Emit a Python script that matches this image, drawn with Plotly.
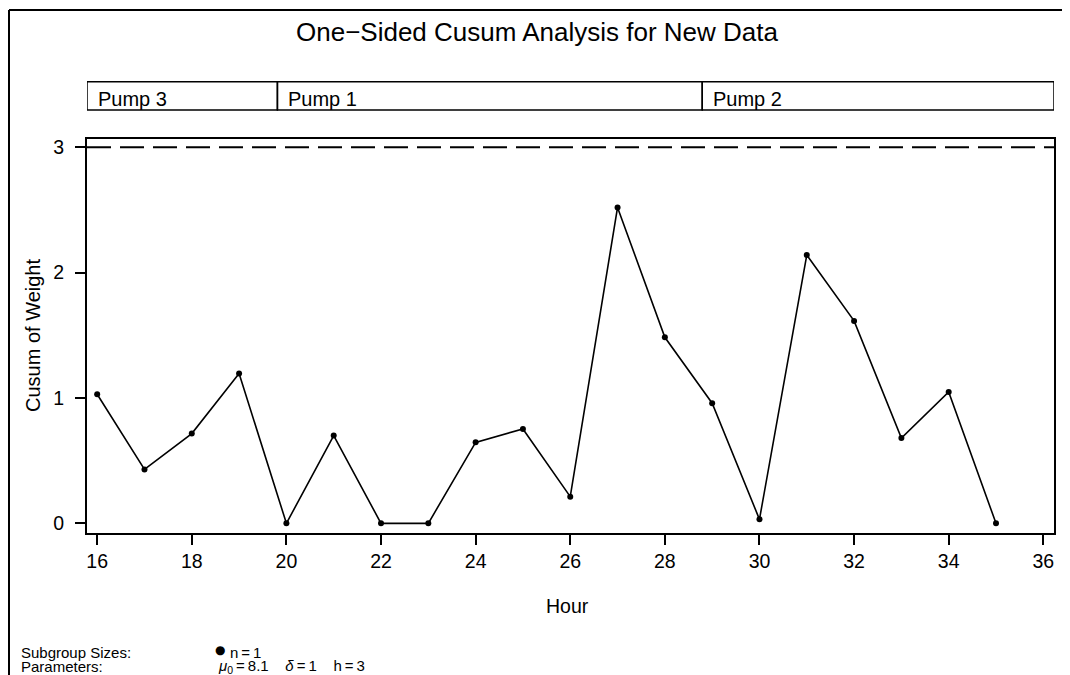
import plotly.graph_objects as go

# ---- data ----
hours = [16, 17, 18, 19, 20, 21, 22, 23, 24, 25, 26, 27, 28, 29, 30, 31, 32, 33, 34, 35]
cusum = [1.03, 0.43, 0.716, 1.195, 0.0, 0.70, 0.0, 0.0, 0.646, 0.753, 0.213,
         2.52, 1.484, 0.958, 0.032, 2.14, 1.615, 0.681, 1.048, 0.0]
pump_labels = ["Pump 3", "Pump 1", "Pump 2"]
pump_bounds = [15.785, 19.81, 28.79, 36.226]
x_ticks = [16, 18, 20, 22, 24, 26, 28, 30, 32, 34, 36]
y_ticks = [0, 1, 2, 3]
h_limit = 3

# page has an 8px body margin; work in reference-pixel coords and convert
OFF = 8
W, H = 1062, 667
ML, MR, MT, MB = 79, 16, 131, 142
PW = W - ML - MR
PH = H - MT - MB

def px(x):
    return (x - OFF - ML) / PW

def py(y):
    return (H - MB - (y - OFF)) / PH

FONT = "Liberation Sans, Arial, Helvetica, sans-serif"
TS = "\u2009"  # thin space

fig = go.Figure()
fig.add_trace(go.Scatter(
    x=hours, y=cusum, mode="lines+markers",
    line=dict(color="black", width=1.6),
    marker=dict(color="black", size=6),
    showlegend=False, hoverinfo="x+y",
))

shapes = []
# control limit
shapes.append(dict(type="line", xref="paper", yref="y", x0=0, x1=1, y0=h_limit, y1=h_limit,
                   line=dict(color="black", width=2, dash="24px,9px")))
# pump strip
annotations = []
for lab, a, b in zip(pump_labels, pump_bounds[:-1], pump_bounds[1:]):
    shapes.append(dict(type="rect", xref="x", yref="paper", x0=a, x1=b,
                       y0=py(110), y1=py(81.7), line=dict(color="black", width=1.5),
                       fillcolor="rgba(0,0,0,0)"))
    annotations.append(dict(xref="x", yref="paper", x=a, y=py(98.5), text=lab,
                            xanchor="left", yanchor="middle", xshift=9, showarrow=False,
                            font=dict(size=20, color="black", family=FONT)))
# outer border (top and left)
shapes.append(dict(type="line", xref="paper", yref="paper", x0=px(9), x1=px(W + OFF + 5),
                   y0=py(10), y1=py(10), line=dict(color="black", width=2)))
shapes.append(dict(type="line", xref="paper", yref="paper", x0=px(9), x1=px(9),
                   y0=py(10), y1=py(H + OFF + 5), line=dict(color="black", width=2)))

# title & axis titles
annotations.append(dict(xref="paper", yref="paper", x=px(537), y=py(32),
                        text="One\u2212Sided Cusum Analysis for New Data",
                        xanchor="center", yanchor="middle", showarrow=False,
                        font=dict(size=26, color="black", family=FONT)))
annotations.append(dict(xref="paper", yref="paper", x=px(567), y=py(606), text="Hour",
                        xanchor="center", yanchor="middle", showarrow=False,
                        font=dict(size=19.5, color="black", family=FONT)))
annotations.append(dict(xref="paper", yref="paper", x=px(33), y=py(336), text="Cusum of Weight",
                        xanchor="center", yanchor="middle", showarrow=False, textangle=-90,
                        font=dict(size=20, color="black", family=FONT)))
# footer
foot = dict(size=15, color="black", family=FONT)
annotations.append(dict(xref="paper", yref="paper", x=px(19), y=py(652), text="Subgroup Sizes:",
                        xanchor="left", yanchor="middle", showarrow=False, font=foot))
annotations.append(dict(xref="paper", yref="paper", x=px(19), y=py(666), text="Parameters:",
                        xanchor="left", yanchor="middle", showarrow=False, font=foot))
annotations.append(dict(xref="paper", yref="paper", x=px(213), y=py(650), text="\u25CF",
                        xanchor="left", yanchor="middle", showarrow=False,
                        font=dict(size=12, color="black", family="DejaVu Sans")))
annotations.append(dict(xref="paper", yref="paper", x=px(228), y=py(652),
                        text="n" + TS + "=" + TS + "1",
                        xanchor="left", yanchor="middle", showarrow=False, font=foot))
annotations.append(dict(xref="paper", yref="paper", x=px(216), y=py(666),
                        text="<i>\u03bc</i><sub>0</sub>" + TS + "=" + TS + "8.1    <i>\u03b4</i>" + TS + "=" + TS
                             + "1    h" + TS + "=" + TS + "3",
                        xanchor="left", yanchor="middle", showarrow=False, font=foot))

fig.update_layout(
    width=W, height=H,
    margin=dict(l=ML, r=MR, t=MT, b=MB, autoexpand=False),
    paper_bgcolor="white", plot_bgcolor="white",
    font=dict(family=FONT, color="black", size=16),
    shapes=shapes, annotations=annotations,
    xaxis=dict(range=[pump_bounds[0], pump_bounds[-1]], tickvals=x_ticks, ticks="outside",
               ticklen=10, tickwidth=1.5, tickcolor="black", showgrid=False, zeroline=False,
               showline=True, linecolor="black", linewidth=2, mirror=True,
               tickfont=dict(size=19.5, family=FONT, color="black"), ticklabelstandoff=0),
    yaxis=dict(range=[-0.077, 3.066], tickvals=y_ticks, ticks="outside",
               ticklen=10, tickwidth=1.5, tickcolor="black", showgrid=False, zeroline=False,
               showline=True, linecolor="black", linewidth=2, mirror=True,
               tickfont=dict(size=19.5, family=FONT, color="black"), ticklabelstandoff=7),
)

fig.write_html("out.html")
